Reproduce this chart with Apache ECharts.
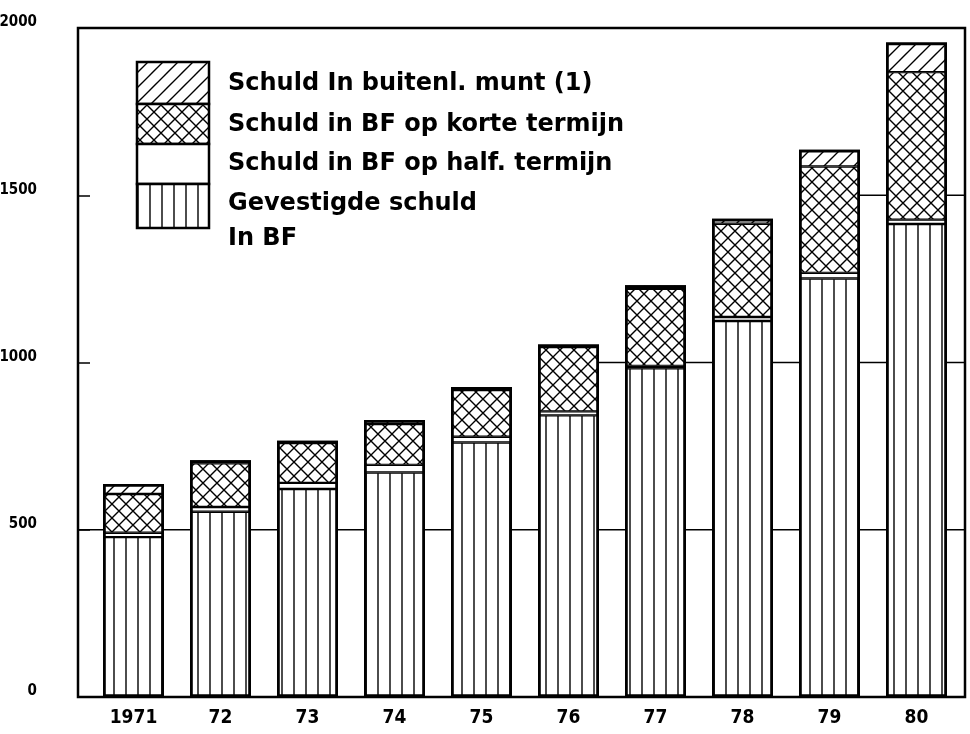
<!DOCTYPE html>
<html>
<head>
<meta charset="utf-8">
<script src="https://cdn.jsdelivr.net/npm/echarts@6/dist/echarts.min.js"></script>
<style>
  html, body { margin: 0; padding: 0; background: #fff; }
  #chart { width: 970px; height: 734px; }
</style>
</head>
<body>
<div id="chart"></div>
<script>
// jaren (categorieën)
var years = ["1971", "72", "73", "74", "75", "76", "77", "78", "79", "80"];
// gevestigde schuld in BF (verticale strepen)
var gevestigd = [478, 554, 622, 671, 761, 842, 983, 1124, 1251, 1414];
// schuld in BF op half. termijn (wit)
var halfTermijn = [13, 14, 18, 23, 17, 12, 7, 12, 17, 13];
// schuld in BF op korte termijn (kruisarcering)
var korteTermijn = [116, 131, 119, 122, 140, 192, 230, 279, 318, 441];
// schuld in buitenlandse munt (schuine arcering)
var buitenl = [30, 9, 7, 12, 9, 8, 11, 15, 50, 89];
// y-as
var yMin = 0, yMax = 2000, yStep = 500;
// hulplijnen tussen de staven
var gridLevels = [500, 1000, 1500];

var legendNames = [
    "Schuld In buitenl. munt (1)",
    "Schuld in BF op korte termijn",
    "Schuld in BF op half. termijn",
    "Gevestigde schuld"
];

// totaal per jaar (omtrek van de staaf + hulplijnen)
var totals = years.map(function (y, i) {
    return gevestigd[i] + halfTermijn[i] + korteTermijn[i] + buitenl[i];
});

// patronen maken met een canvas
function makePattern(size, draw) {
    var c = document.createElement("canvas");
    c.width = size;
    c.height = size;
    var ctx = c.getContext("2d");
    ctx.fillStyle = "#fff";
    ctx.fillRect(0, 0, size, size);
    ctx.strokeStyle = "#000";
    ctx.lineWidth = 1.4;
    ctx.beginPath();
    draw(ctx, size);
    ctx.stroke();
    return { image: c, repeat: "repeat" };
}

var vertPattern = makePattern(12, function (ctx, s) {
    ctx.moveTo(6, 0);
    ctx.lineTo(6, s);
});
var crossPattern = makePattern(14, function (ctx, s) {
    ctx.moveTo(-1, -1);
    ctx.lineTo(s + 1, s + 1);
    ctx.moveTo(s + 1, -1);
    ctx.lineTo(-1, s + 1);
});
var diagPattern = makePattern(15, function (ctx, s) {
    [-1, 0, 1].forEach(function (k) {
        ctx.moveTo(k * s - 1, s + 1);
        ctx.lineTo(k * s + s + 1, -1);
    });
});

var fontTxt = '"DejaVu Sans", sans-serif';
var fontNum = '"DejaVu Sans Condensed", "Liberation Sans", sans-serif';
var BAR_W = 61;

var myChart = echarts.init(document.getElementById("chart"), null, { renderer: "canvas" });

function barSeries(name, data, color) {
    return {
        name: name,
        type: "bar",
        stack: "totaal",
        xAxisIndex: 1,
        yAxisIndex: 1,
        barWidth: BAR_W,
        barGap: "-100%",
        data: data,
        z: 3,
        itemStyle: {
            color: color,
            borderColor: "#000",
            borderWidth: 1.2
        }
    };
}

// korte lijnstukjes op 500/1000/1500 tussen staven die hoger reiken
function renderGridSegments(params, api) {
    var level = api.value(0);
    var band = api.size([1, 0])[0];
    var half = BAR_W / 2;
    var children = [];
    var n = years.length;
    function seg(x1, x2, y) {
        children.push({
            type: "line",
            shape: { x1: x1, y1: y, x2: x2, y2: y },
            style: { stroke: "#000", lineWidth: 1.5 }
        });
    }
    var first = api.coord([0, level]);
    var last = api.coord([n - 1, level]);
    if (totals[0] > level) seg(first[0] - band / 2 - 12, first[0] - half, first[1]);
    for (var i = 0; i < n - 1; i++) {
        if (totals[i] > level && totals[i + 1] > level) {
            var a = api.coord([i, level]);
            var b = api.coord([i + 1, level]);
            seg(a[0] + half, b[0] - half, a[1]);
        }
    }
    if (totals[n - 1] > level) seg(last[0] + half, last[0] + band / 2 + 5, last[1]);
    return { type: "group", children: children };
}

// legende als blokjes + tekst
var legendRows = [
    { y: 62, h: 42, fill: diagPattern },
    { y: 104, h: 40, fill: crossPattern },
    { y: 144, h: 40, fill: "#fff" },
    { y: 184, h: 44, fill: vertPattern }
];
var legendText = [
    { t: legendNames[0], y: 84 },
    { t: legendNames[1], y: 125 },
    { t: legendNames[2], y: 164 },
    { t: legendNames[3], y: 204 },
    { t: "In BF", y: 239 }
];
var graphics = [];
legendRows.forEach(function (r) {
    graphics.push({
        type: "rect",
        shape: { x: 137, y: r.y, width: 72, height: r.h },
        style: { fill: r.fill, stroke: "#000", lineWidth: 2.5 },
        z: 10
    });
});
legendText.forEach(function (l) {
    graphics.push({
        type: "text",
        x: 228,
        y: l.y,
        style: {
            text: l.t,
            fill: "#000",
            fontFamily: fontTxt,
            fontWeight: "bold",
            fontSize: 24,
            verticalAlign: "middle",
            align: "left"
        },
        z: 10
    });
});

var option = {
    animation: false,
    backgroundColor: "#fff",
    grid: [
        // kader
        { left: 78, right: 5, top: 28, bottom: 37, outerBoundsMode: "none", containLabel: false,
          show: true, borderColor: "#000", borderWidth: 2.5, backgroundColor: "transparent" },
        // staven
        { left: 90, right: 10, top: 28, bottom: 37, outerBoundsMode: "none", containLabel: false }
    ],
    xAxis: [
        { gridIndex: 0, type: "value", min: 0, max: 1, show: false },
        {
            gridIndex: 1,
            type: "category",
            data: years,
            axisLine: { show: false },
            axisTick: { show: false },
            axisLabel: {
                margin: 12,
                color: "#000",
                fontFamily: fontNum,
                fontWeight: "bold",
                fontSize: 19
            }
        }
    ],
    yAxis: [
        {
            gridIndex: 0,
            type: "value",
            min: yMin,
            max: yMax,
            interval: yStep,
            axisLine: { show: false },
            axisTick: { show: true, inside: true, length: 12, lineStyle: { color: "#000", width: 1.5 } },
            splitLine: { show: false },
            axisLabel: {
                margin: 41,
                color: "#000",
                fontFamily: fontNum,
                fontWeight: "bold",
                fontSize: 15,
                verticalAlign: "bottom",
                padding: [0, 0, -2, 0],
                formatter: function (v) { return String(v); }
            }
        },
        { gridIndex: 1, type: "value", min: yMin, max: yMax, show: false }
    ],
    series: [
        {
            type: "custom",
            xAxisIndex: 1,
            yAxisIndex: 1,
            z: 1,
            silent: true,
            data: gridLevels.map(function (v) { return [v]; }),
            renderItem: renderGridSegments
        },
        barSeries(legendNames[3] + " In BF", gevestigd, vertPattern),
        barSeries(legendNames[2], halfTermijn, "#fff"),
        barSeries(legendNames[1], korteTermijn, crossPattern),
        barSeries(legendNames[0], buitenl, diagPattern),
        // dikke omtrek rond elke staaf
        {
            type: "bar",
            xAxisIndex: 1,
            yAxisIndex: 1,
            barWidth: BAR_W,
            barGap: "-100%",
            data: totals,
            z: 4,
            silent: true,
            itemStyle: { color: "transparent", borderColor: "#000", borderWidth: 2.8 }
        }
    ],
    graphic: graphics
};

myChart.setOption(option);
window.addEventListener("resize", function () {
    myChart.resize();
});
</script>
</body>
</html>
